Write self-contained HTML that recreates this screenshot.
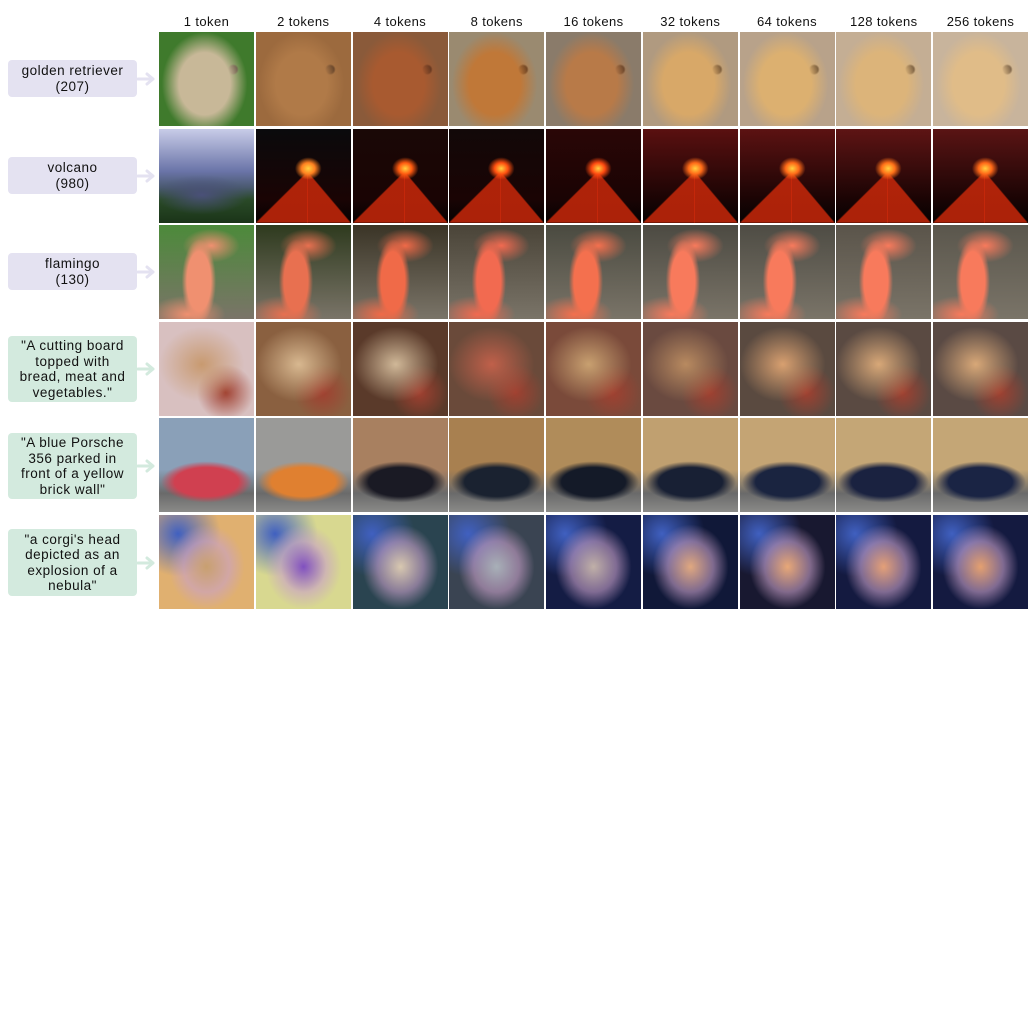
<!DOCTYPE html>
<html><head><meta charset="utf-8">
<style>
html,body{margin:0;padding:0;background:#fff;}
#root{position:relative;width:1032px;height:1032px;overflow:hidden;font-family:"Liberation Sans",sans-serif;}
.hdr{position:absolute;top:14px;width:97px;text-align:center;font-size:13px;letter-spacing:0.4px;color:#111;}
.lab{position:absolute;left:8px;width:129px;border-radius:4px;display:flex;align-items:center;justify-content:center;text-align:center;font-size:13.5px;line-height:15.5px;letter-spacing:0.5px;color:#111;}
.lav{background:#e4e2f1;}
.grn{background:#d3eade;}
.arr{position:absolute;left:137px;width:20px;height:14px;}
.cell{position:absolute;width:95px;height:94px;overflow:hidden;}
</style></head>
<body>
<div id="root">
</div>
<script>
const colHeaders=["1 token","2 tokens","4 tokens","8 tokens","16 tokens","32 tokens","64 tokens","128 tokens","256 tokens"];
const rowLabels=["golden retriever<br>(207)","volcano<br>(980)","flamingo<br>(130)","\"A cutting board<br>topped with<br>bread, meat and<br>vegetables.\"","\"A blue Porsche<br>356 parked in<br>front of a yellow<br>brick wall\"","\"a corgi's head<br>depicted as an<br>explosion of a<br>nebula\""];
const rowNames=["golden-retriever","volcano","flamingo","cutting-board","blue-porsche","corgi-nebula"];
const rowBox=[[60,37],[157,37],[253,37],[336,66],[433,66],[529,67]];
const cellBg=[
 ["#3f7a2c","#9c6a3e","#8a5a3a","#9a8a70","#8a7b6a","#b09a80","#b8a28a","#c4ae94","#c8b49c"],
 ["#7c86b8","#0a0a0c","#1a0806","#120808","#2a0606","#5a1010","#5c1212","#5e1414","#5a1414"],
 ["#4c8a3a","#2e3a1e","#3a3426","#4a4438","#4a4a40","#4c4a42","#4e4c44","#5a544a","#5a564c"],
 ["#d8c0c0","#8a6040","#5a3a2a","#6a4a3a","#7a4a3a","#6a4a40","#5a4a40","#5a4a42","#5a4a44"],
 ["#8aa0b8","#9a9a98","#a88060","#a88050","#b08c5a","#c0a070","#c4a474","#c4a676","#c4a676"],
 ["#e0b070","#d8d890","#2a4450","#3a4452","#141c44","#101838","#181830","#141a40","#141a40"]];
const cellFg=[
 ["#c8b898","#b07a48","#a85a30","#c07838","#b87a48","#d8a868","#dcb070","#dcb47a","#e0bc88"],
 ["#2a3a2a","#ff8020","#ff5a10","#ff5010","#ff4a10","#ff6a18","#ff6a18","#ff7018","#ff6818"],
 ["#f09070","#e87050","#f06a48","#f26a50","#f4704e","#f87a5c","#f87a5c","#f87a5c","#f87a5c"],
 ["#c89a70","#d8b890","#d0b898","#c0604a","#c8a070","#b88a60","#d8a070","#d8a878","#d8a878"],
 ["#d04050","#e08030","#1a1a24","#1a2230","#141a28","#182034","#1a2440","#1a2240","#1a2444"],
 ["#c8a070","#8050c0","#d8c8b0","#a8b0b8","#c0b0a8","#e0a880","#e8a878","#e4a078","#e4a070"]];
const root=document.getElementById('root');
const x0=159, pitchX=96.75, y0=32, pitchY=96.6;
colHeaders.forEach((h,c)=>{
  const d=document.createElement('div');
  d.className='hdr';
  
  
  d.style.left=(x0+c*pitchX-1)+'px';
  d.textContent=h;
  root.appendChild(d);
});
function cellBackground(r,c){
  const bg=cellBg[r][c], fg=cellFg[r][c];
  if(r===1){
    if(c===0) return `radial-gradient(ellipse 70% 30% at 45% 70%, #4a5078, transparent 70%), linear-gradient(#c8cce8 0%, #6a74a8 45%, #4a5a70 62%, #2a4a28 75%, #1a3418 100%)`;
    return `radial-gradient(ellipse 14% 12% at 55% 42%, #ffd040, ${fg} 50%, transparent 100%), linear-gradient(to bottom right, transparent 49%, rgba(200,40,10,.85) 51%) 0% 100%/55% 55% no-repeat, linear-gradient(to bottom left, transparent 49%, rgba(200,40,10,.85) 51%) 100% 100%/46% 55% no-repeat, linear-gradient(${bg} 0%, #1a0404 75%, #050202 100%)`;
  }
  if(r===2){
    return `radial-gradient(ellipse 18% 45% at 42% 60%, ${fg}, ${fg} 70%, transparent 100%), radial-gradient(ellipse 30% 18% at 55% 22%, ${fg}, transparent 100%), radial-gradient(ellipse 40% 20% at 30% 95%, ${fg}, transparent 100%), linear-gradient(${bg}, #7a7468)`;
  }
  if(r===0){
    return `radial-gradient(ellipse 45% 55% at 48% 55%, ${fg}, ${fg} 60%, transparent 100%), radial-gradient(circle at 78% 40%, #2a1a14 4%, transparent 6%), linear-gradient(${bg}, ${bg})`;
  }
  if(r===4){
    return `radial-gradient(ellipse 48% 22% at 50% 68%, ${fg}, ${fg} 70%, transparent 100%), linear-gradient(${bg} 0%, ${bg} 55%, #6a6a6a 80%, #8a8a88 100%)`;
  }
  if(r===5){
    return `radial-gradient(ellipse 40% 45% at 50% 55%, ${fg}, rgba(200,160,200,.6) 60%, transparent 100%), radial-gradient(circle at 20% 20%, #4060c0, transparent 40%), linear-gradient(${bg}, ${bg})`;
  }
  return `radial-gradient(ellipse 45% 40% at 45% 45%, ${fg}, transparent 100%), radial-gradient(ellipse 30% 30% at 70% 75%, #a04030, transparent 100%), linear-gradient(${bg}, ${bg})`;
}
rowLabels.forEach((lab,r)=>{
  const b=document.createElement('div');
  b.className='lab '+(r<3?'lav':'grn');
  
  
  b.style.top=rowBox[r][0]+'px';
  b.style.height=rowBox[r][1]+'px';
  b.innerHTML=lab;
  root.appendChild(b);
  const a=document.createElementNS('http://www.w3.org/2000/svg','svg');
  a.setAttribute('class','arr');
  
  
  a.style.top=(rowBox[r][0]+rowBox[r][1]/2-7)+'px';
  a.innerHTML=`<path d="M1 7 H16 M10 2 L16 7 L10 12" fill="none" stroke="${r<3?'#e4e2f1':'#d3eade'}" stroke-width="3" stroke-linecap="round" stroke-linejoin="round"/>`;
  root.appendChild(a);
  for(let c=0;c<9;c++){
    const d=document.createElement('div');
    d.className='cell';
    
    
    d.style.left=Math.round(x0+c*pitchX)+'px';
    d.style.top=Math.round(y0+r*pitchY)+'px';
    d.style.background=cellBackground(r,c);
    root.appendChild(d);
  }
});
</script>
</body></html>
